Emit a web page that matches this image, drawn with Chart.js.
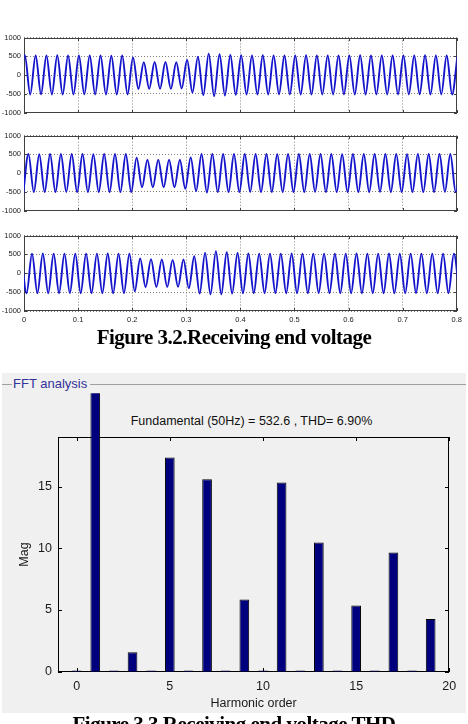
<!DOCTYPE html>
<html><head><meta charset="utf-8">
<script src="https://cdn.jsdelivr.net/npm/chart.js@4/dist/chart.umd.min.js"></script>
<style>
html,body{margin:0;padding:0;background:#fff;width:468px;height:724px;overflow:hidden;position:relative;font-family:"Liberation Sans",Arial,sans-serif}
canvas{position:absolute;left:0}
.cap{position:absolute;left:0;width:468px;text-align:center;font-family:"Liberation Serif","Times New Roman",serif;font-weight:bold;font-size:21px;line-height:21px;letter-spacing:-0.5px;color:#000;white-space:nowrap}
#panel{position:absolute;left:2px;top:373px;width:464px;height:340px;background:#f0f0f0}
#gline1{position:absolute;left:2px;top:384px;width:10px;height:1px;background:#a0a0a0}
#gline2{position:absolute;left:90px;top:384px;width:376px;height:1px;background:#a0a0a0}
#glabel{position:absolute;left:13px;top:376px;font-size:13px;line-height:16px;color:#33339a}
#ffttitle{position:absolute;left:0;width:503px;top:413px;text-align:center;font-size:12.5px;line-height:16px;color:#111}
</style></head><body>
<canvas id="w1" width="468" height="90" style="top:30px"></canvas>
<canvas id="w2" width="468" height="90" style="top:128px"></canvas>
<canvas id="w3" width="468" height="100" style="top:228px"></canvas>
<div class="cap" style="top:327px">Figure 3.2.Receiving end voltage</div>
<div id="panel"></div>
<div id="gline1"></div><div id="gline2"></div>
<div id="glabel">FFT analysis</div>
<div id="ffttitle">Fundamental (50Hz) = 532.6 , THD= 6.90%</div>
<canvas id="fft" width="464" height="340" style="left:2px;top:373px"></canvas>
<div class="cap" style="top:714px">Figure 3.3 Receiving end voltage THD</div>
<script>
// ---- waveform data: successive extremes (peak / trough) every half cycle (0.01 s) ----
const HALF_CYCLE = 0.01;
const timeTicks = [0, 0.1, 0.2, 0.3, 0.4, 0.5, 0.6, 0.7, 0.8];
const voltTicks = [-1000, -500, 0, 500, 1000];

const phaseA_t0 = -0.0085;
const phaseA_extremes = [
  -520, 525, -520, 520, -515, 520, -520, 525, -520, 520,
  -520, 520, -515, 520, -520, 520, -520, 515, -520, 520,
  -520, 470, -375, 340, -370, 345, -370, 345, -370, 340,
  -360, 400, -470, 485, -540, 570, -565, 555, -545, 535,
  -530, 525, -520, 520, -520, 525, -520, 520, -515, 520,
  -520, 520, -520, 525, -520, 520, -520, 520, -520, 520,
  -515, 520, -520, 525, -520, 520, -520, 520, -520, 520,
  -520, 520, -520, 520, -515, 525, -520, 520, -520, 520,
  -520, 520
];

const phaseB_t0 = -0.0018;
const phaseB_extremes = [
  -600, 510, -510, 505, -510, 510, -510, 510, -505, 510,
  -510, 510, -510, 505, -510, 510, -510, 510, -510, 510,
  -510, 415, -380, 355, -380, 355, -380, 355, -380, 355,
  -420, 420, -480, 510, -520, 515, -510, 510, -510, 510,
  -510, 510, -505, 510, -510, 510, -510, 505, -510, 510,
  -510, 510, -510, 510, -505, 510, -510, 510, -510, 505,
  -510, 510, -510, 510, -510, 510, -505, 510, -510, 510,
  -510, 505, -510, 510, -510, 510, -510, 510, -505, 510,
  -510, 510
];

const phaseC_t0 = -0.0052;
const phaseC_extremes = [
  520, -530, 520, -530, 525, -530, 520, -530, 520, -525,
  520, -530, 520, -530, 520, -530, 525, -530, 520, -530,
  520, -480, 390, -370, 375, -365, 365, -365, 355, -360,
  365, -400, 450, -540, 540, -560, 585, -560, 555, -540,
  535, -530, 525, -530, 520, -530, 520, -530, 520, -530,
  525, -530, 520, -530, 520, -525, 520, -530, 520, -530,
  520, -530, 525, -530, 520, -530, 520, -530, 525, -530,
  520, -530, 520, -525, 520, -530, 520, -530, 520, -530,
  520, -530
];

// ---- FFT data ----
const harmonicOrder = [0, 1, 2, 3, 4, 5, 6, 7, 8, 9, 10, 11, 12, 13, 14, 15, 16, 17, 18, 19];
const magnitude = [0.1, 100, 0.1, 1.57, 0.1, 17.37, 0.1, 15.6, 0.1, 5.85, 0.1, 15.34, 0.1, 10.47, 0.1, 5.36, 0.1, 9.66, 0.1, 4.28];
const harmonicTicks = [0, 5, 10, 15, 20];
const magTicks = [0, 5, 10, 15];

// ---- frame + inward ticks (MATLAB style box) ----
const framePlugin = {
  id: 'frame',
  beforeDatasetsDraw(chart, args, o) {
    const {ctx, chartArea: a, scales} = chart;
    const L = Math.round(a.left), R = Math.round(a.right), T = Math.round(a.top), B = Math.round(a.bottom);
    ctx.save();
    ctx.strokeStyle = o.color; ctx.lineWidth = 1;
    ctx.strokeRect(L + 0.5, T + 0.5, R - L - 1, B - T - 1);
    ctx.beginPath();
    scales.x.ticks.forEach(t => {
      const p = Math.round(scales.x.getPixelForValue(t.value)) + 0.5;
      ctx.moveTo(p, T); ctx.lineTo(p, T + o.len);
      ctx.moveTo(p, B); ctx.lineTo(p, B - o.len);
    });
    scales.y.ticks.forEach(t => {
      const p = Math.round(scales.y.getPixelForValue(t.value)) + 0.5;
      ctx.moveTo(L, p); ctx.lineTo(L + o.len, p);
      ctx.moveTo(R, p); ctx.lineTo(R - o.len, p);
    });
    ctx.stroke();
    ctx.restore();
  }
};

const tickFont = {family: '"Liberation Sans", Arial, sans-serif', size: 7.5};

function waveChart(id, t0, extremes, padTop, padBottom, showX) {
  const pts = extremes.map((v, k) => ({x: t0 + HALF_CYCLE * k, y: v}));
  return new Chart(document.getElementById(id), {
    type: 'line',
    data: {datasets: [{data: pts, borderColor: '#1414cc', borderWidth: 1.9, pointRadius: 0,
      cubicInterpolationMode: 'monotone', fill: false}]},
    options: {
      responsive: false, animation: false, events: [],
      layout: {padding: {left: 0, right: 11.3, top: padTop, bottom: padBottom}},
      plugins: {legend: {display: false}, tooltip: {enabled: false}, frame: {color: '#404040', len: 3}},
      scales: {
        x: {type: 'linear', min: 0, max: 0.8,
          afterBuildTicks: s => { s.ticks = timeTicks.map(v => ({value: v})); },
          afterFit: s => { s.height = showX ? 17 : 0; },
          grid: {color: '#808080', lineWidth: 1, drawTicks: false},
          border: {display: false, dash: [1, 2]},
          ticks: {display: showX, padding: 4, color: '#222', font: tickFont, maxRotation: 0,
            callback: v => String(v)}},
        y: {min: -1000, max: 1000,
          afterBuildTicks: s => { s.ticks = voltTicks.map(v => ({value: v})); },
          afterFit: s => { s.width = 24; },
          grid: {color: '#808080', lineWidth: 1, drawTicks: false},
          border: {display: false, dash: [1, 2]},
          ticks: {padding: 3, color: '#222', font: tickFont, callback: v => String(v)}}
      }
    },
    plugins: [framePlugin]
  });
}

waveChart('w1', phaseA_t0, phaseA_extremes, 7, 6, false);
waveChart('w2', phaseB_t0, phaseB_extremes, 7.7, 6.3, false);
waveChart('w3', phaseC_t0, phaseC_extremes, 7, 0, true);

const fftFont = {family: '"Liberation Sans", Arial, sans-serif', size: 12.5};
new Chart(document.getElementById('fft'), {
  type: 'bar',
  data: {datasets: [{
    data: harmonicOrder.map((h, i) => ({x: h, y: magnitude[i]})),
    backgroundColor: '#00007f', borderColor: '#000', borderWidth: 1,
    barPercentage: 0.65, categoryPercentage: 0.8,
    clip: {left: 0, top: 44, right: 0, bottom: 0}
  }]},
  options: {
    responsive: false, animation: false, events: [],
    layout: {padding: {left: 0, right: 16.7, top: 64.3, bottom: 0}},
    plugins: {legend: {display: false}, tooltip: {enabled: false}, frame: {color: '#000', len: 4}},
    scales: {
      x: {type: 'linear', min: -1, max: 20, offset: false,
        afterBuildTicks: s => { s.ticks = harmonicTicks.map(v => ({value: v})); },
        afterFit: s => { s.height = 41.3; },
        grid: {display: false, drawTicks: false, offset: false}, border: {display: false},
        ticks: {padding: 7, color: '#1a1a1a', font: fftFont, maxRotation: 0},
        title: {display: true, text: 'Harmonic order', color: '#1a1a1a', font: fftFont, padding: {top: 0, bottom: 1.5}}},
      y: {min: 0, max: 19,
        afterBuildTicks: s => { s.ticks = magTicks.map(v => ({value: v})); },
        afterFit: s => { s.width = 56; },
        grid: {display: false, drawTicks: false}, border: {display: false},
        ticks: {padding: 6, color: '#1a1a1a', font: fftFont},
        title: {display: true, text: 'Mag', color: '#1a1a1a', font: fftFont, padding: {top: 15.5, bottom: 0}}}
    }
  },
  plugins: [framePlugin]
});
</script>
</body></html>
